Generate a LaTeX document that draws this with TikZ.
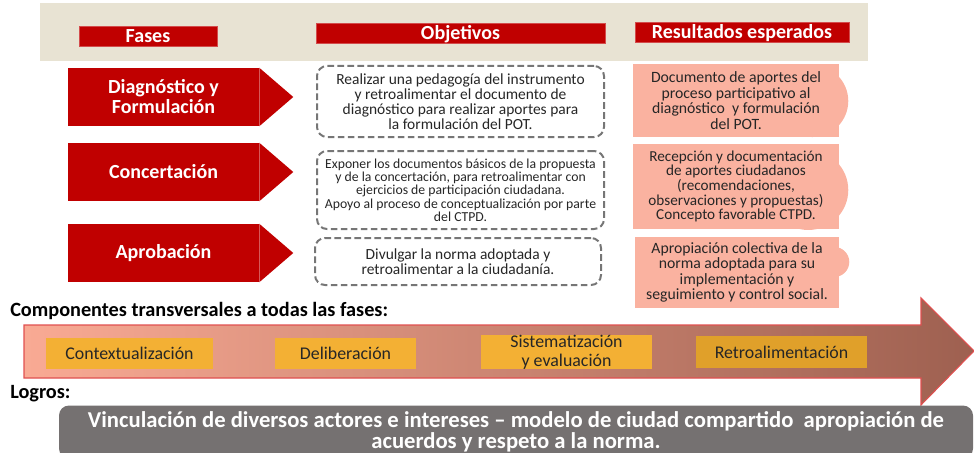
\documentclass[tikz,border=0pt]{standalone}
\usepackage{fontspec}
\setmainfont{Carlito}
\usepackage{tikz}
\usetikzlibrary{positioning,calc,backgrounds}
\usepackage{xcolor}
\definecolor{faseRed}{RGB}{192,0,0}
\definecolor{bandBeige}{RGB}{232,227,211}
\definecolor{resSalmon}{RGB}{250,178,160}
\definecolor{objGray}{RGB}{118,118,118}
\definecolor{compYellow}{RGB}{243,176,52}
\definecolor{compYellowDark}{RGB}{224,160,42}
\definecolor{logroGray}{RGB}{117,113,113}
\definecolor{arrowLeft}{RGB}{249,170,148}
\definecolor{arrowRight}{RGB}{158,96,80}
\definecolor{arrowEdge}{RGB}{224,80,80}
\definecolor{textDark}{RGB}{38,38,38}

\begin{document}
\begin{tikzpicture}[
		x=0.75pt, y=-0.75pt,
		header/.style={rectangle, fill=faseRed, draw=faseRed!70, text=white, inner sep=0pt,
				minimum height=15pt, text height=11pt, text depth=0.5pt,
				font=\bfseries\fontsize{15}{15}\selectfont},
		fase/.style={rectangle, fill=faseRed, text=white, inner sep=0pt, align=center,
				minimum width=143.25pt, minimum height=43.5pt,
				font=\bfseries\fontsize{15}{15}\selectfont},
		objbox/.style={rectangle, draw=objGray, line width=1.5pt, dash pattern=on 5pt off 2.5pt,
				rounded corners=7.5pt, minimum width=215.25pt, align=center, inner sep=0pt,
				text=textDark, font=\fontsize{11.6}{11.25}\selectfont},
		resbox/.style={rectangle, fill=resSalmon, minimum width=154.5pt, align=center, inner sep=0pt,
				text=textDark, font=\fontsize{11.8}{11.6}\selectfont},
		comp/.style={rectangle, fill=compYellow, minimum width=125.25pt, minimum height=23.25pt,
				align=center, inner sep=0pt, text=textDark, font=\fontsize{13.4}{14}\selectfont},
		lbl/.style={anchor=west, inner sep=0pt, font=\bfseries\fontsize{15.2}{16}\selectfont},
		]
		\useasboundingbox (0,0) rectangle (974,453);

		% Header band
		\fill[bandBeige] (40,3) rectangle (868,61);
		\node[header, minimum width=103.5pt] (hfases) at (148,36) {Fases};
		\node[header, minimum width=216.75pt] (hobj) at (460.5,33) {Objetivos};
		\node[header, minimum width=160.5pt] (hres) at (742,32) {Resultados esperados};

		% Fases
		\node[fase] (diag) at (163.5,97) {Diagnóstico y\\Formulación};
		\node[fase] (conc) at (163.5,172) {Concertación};
		\node[fase] (apro) at (163.5,253) {Aprobación};
		\foreach \f in {diag,conc,apro}
			\fill[faseRed] (\f.north east) -- ($(\f.east)+(34,0)$) -- (\f.south east) -- cycle;

		% Objetivos
		\node[objbox, minimum height=53.25pt] (obj1) at (460.5,101.5)
			{Realizar una pedagogía del instrumento\\y retroalimentar el documento de\\diagnóstico para realizar aportes para\\la formulación del POT.};
		\node[objbox, minimum height=58.5pt, font=\fontsize{10.3}{10}\selectfont] (obj2) at (460.5,190)
			{Exponer los documentos básicos de la propuesta\\y de la concertación, para retroalimentar con\\ejercicios de participación ciudadana.\\Apoyo al proceso de conceptualización por parte\\del CTPD.};
		\node[objbox, minimum width=214.5pt, minimum height=35.25pt] (obj3) at (458,261.5)
			{Divulgar la norma adoptada y\\retroalimentar a la ciudadanía.};

		% Resultados esperados
		\node[resbox, minimum height=54.75pt] (res1) at (736,100.5)
			{Documento de aportes del\\proceso participativo al\\diagnóstico \ y formulación\\del POT.};
		\node[resbox, minimum height=63.75pt, font=\fontsize{11.4}{11}\selectfont] (res2) at (736,186.5)
			{Recepción y documentación\\de aportes ciudadanos\\(recomendaciones,\\observaciones y propuestas)\\Concepto favorable CTPD.};
		\node[resbox, minimum width=153pt, minimum height=53.25pt] (res3) at (737,272.5)
			{Apropiación colectiva de la\\norma adoptada para su\\implementación y\\seguimiento y control social.};
		\begin{scope}[on background layer]
			\fill[resSalmon] ([xshift=-20.25pt, yshift=-0.4pt]res1.east) circle[radius=27pt];
			\fill[resSalmon] ([xshift=-23.25pt, yshift=-2.6pt]res2.east) circle[radius=30pt];
			\fill[resSalmon] ([xshift=-3.75pt, yshift=7.9pt]res3.east) circle[radius=11.25pt];
		\end{scope}

		% Componentes transversales
		\node[lbl] (ltrans) at (10,311) {Componentes transversales a todas las fases:};
		\shade[left color=arrowLeft, right color=arrowRight, draw=arrowEdge, line width=0.8pt]
			(24,325) -- (921,325) -- (921,298) -- (974,351) -- (921,405) -- (921,378) -- (24,378) -- cycle;
		\node[comp] (ctx) at (129.5,353.5) {Contextualización};
		\node[comp, minimum width=105.75pt] (delib) at (345.5,353.5) {Deliberación};
		\node[comp, minimum width=128.25pt, minimum height=25.5pt] (sist) at (566.5,352) {Sistematización\\y evaluación};
		\node[comp, minimum width=128.25pt, minimum height=24pt, fill=compYellowDark] (retro) at (781.5,352) {Retroalimentación};

		% Logros
		\node[lbl] (llogros) at (10,394) {Logros:};
		\node[rectangle, fill=logroGray, rounded corners=7.5pt, minimum width=685.5pt, minimum height=39.75pt,
			inner sep=0pt, align=center, text=white, font=\bfseries\fontsize{17}{15.4}\selectfont] (logro) at (516,432)
			{Vinculación de diversos actores e intereses -- modelo de ciudad compartido \ apropiación de\\acuerdos y respeto a la norma.};
	\end{tikzpicture}
\end{document}
